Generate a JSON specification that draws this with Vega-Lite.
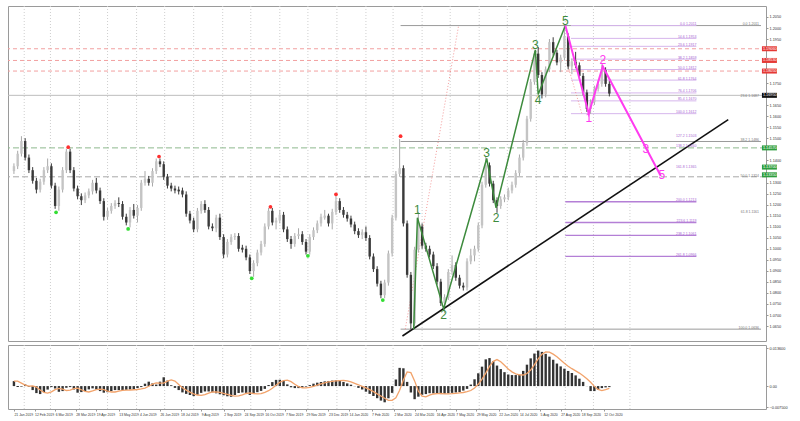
{
"$schema":"https://vega.github.io/schema/vega-lite/v6.json",
"background":"white",
"padding":{"left":7,"top":5,"right":2,"bottom":2},
"spacing":2,
"config":{"view":{"stroke":"#9a9a9a","strokeWidth":1},"font":"Liberation Sans","axis":{"labelOverlap":false,"labelSeparation":0}},
"datasets":{
"candles":[
{"d":"2019-01-21","o":1.1352,"h":1.1387,"l":1.1339,"c":1.1374,"m":0.00179,"s":0.00179},
{"d":"2019-01-25","o":1.1374,"h":1.1444,"l":1.1361,"c":1.1431,"m":-0.00036,"s":0.00179},
{"d":"2019-01-29","o":1.1431,"h":1.1510,"l":1.1418,"c":1.1488,"m":-0.00021,"s":0.00107},
{"d":"2019-02-02","o":1.1488,"h":1.1501,"l":1.1400,"c":1.1413,"m":0.00057,"s":0.00036},
{"d":"2019-02-06","o":1.1413,"h":1.1427,"l":1.1343,"c":1.1356,"m":-0.00025,"s":-0.00004},
{"d":"2019-02-10","o":1.1356,"h":1.1370,"l":1.1295,"c":1.1308,"m":-0.00143,"s":0.00004},
{"d":"2019-02-14","o":1.1308,"h":1.1321,"l":1.1251,"c":1.1268,"m":-0.00251,"s":-0.00036},
{"d":"2019-02-18","o":1.1268,"h":1.1317,"l":1.1255,"c":1.1304,"m":-0.00286,"s":-0.00140},
{"d":"2019-02-22","o":1.1304,"h":1.1370,"l":1.1290,"c":1.1356,"m":-0.00215,"s":-0.00226},
{"d":"2019-02-26","o":1.1356,"h":1.1409,"l":1.1343,"c":1.1374,"m":-0.00125,"s":-0.00251},
{"d":"2019-03-02","o":1.1374,"h":1.1387,"l":1.1273,"c":1.1286,"m":-0.00036,"s":-0.00208},
{"d":"2019-03-06","o":1.1286,"h":1.1299,"l":1.1181,"c":1.1194,"m":-0.00086,"s":-0.00125},
{"d":"2019-03-10","o":1.1194,"h":1.1282,"l":1.1172,"c":1.1268,"m":-0.00204,"s":-0.00082},
{"d":"2019-03-14","o":1.1268,"h":1.1370,"l":1.1255,"c":1.1356,"m":-0.00179,"s":-0.00107},
{"d":"2019-03-18","o":1.1356,"h":1.1453,"l":1.1343,"c":1.1440,"m":-0.00061,"s":-0.00158},
{"d":"2019-03-22","o":1.1440,"h":1.1453,"l":1.1343,"c":1.1356,"m":-0.00036,"s":-0.00147},
{"d":"2019-03-26","o":1.1356,"h":1.1370,"l":1.1260,"c":1.1273,"m":-0.00122,"s":-0.00093},
{"d":"2019-03-30","o":1.1273,"h":1.1286,"l":1.1224,"c":1.1238,"m":-0.00236,"s":-0.00072},
{"d":"2019-04-03","o":1.1238,"h":1.1251,"l":1.1198,"c":1.1220,"m":-0.00215,"s":-0.00132},
{"d":"2019-04-07","o":1.1220,"h":1.1255,"l":1.1207,"c":1.1242,"m":-0.00179,"s":-0.00190},
{"d":"2019-04-11","o":1.1242,"h":1.1273,"l":1.1229,"c":1.1260,"m":-0.00118,"s":-0.00211},
{"d":"2019-04-15","o":1.1260,"h":1.1312,"l":1.1246,"c":1.1299,"m":-0.00082,"s":-0.00172},
{"d":"2019-04-19","o":1.1299,"h":1.1321,"l":1.1251,"c":1.1264,"m":-0.00122,"s":-0.00125},
{"d":"2019-04-23","o":1.1264,"h":1.1277,"l":1.1203,"c":1.1216,"m":-0.00179,"s":-0.00107},
{"d":"2019-04-27","o":1.1216,"h":1.1229,"l":1.1128,"c":1.1145,"m":-0.00236,"s":-0.00129},
{"d":"2019-05-01","o":1.1145,"h":1.1185,"l":1.1132,"c":1.1172,"m":-0.00218,"s":-0.00179},
{"d":"2019-05-05","o":1.1172,"h":1.1207,"l":1.1159,"c":1.1194,"m":-0.00179,"s":-0.00211},
{"d":"2019-05-09","o":1.1194,"h":1.1220,"l":1.1181,"c":1.1207,"m":-0.00143,"s":-0.00211},
{"d":"2019-05-13","o":1.1207,"h":1.1233,"l":1.1189,"c":1.1203,"m":-0.00143,"s":-0.00179},
{"d":"2019-05-17","o":1.1203,"h":1.1216,"l":1.1132,"c":1.1145,"m":-0.00143,"s":-0.00154},
{"d":"2019-05-21","o":1.1145,"h":1.1159,"l":1.1106,"c":1.1119,"m":-0.00136,"s":-0.00143},
{"d":"2019-05-25","o":1.1119,"h":1.1189,"l":1.1097,"c":1.1176,"m":-0.00122,"s":-0.00140},
{"d":"2019-05-29","o":1.1176,"h":1.1203,"l":1.1137,"c":1.1150,"m":-0.00107,"s":-0.00132},
{"d":"2019-06-02","o":1.1150,"h":1.1198,"l":1.1119,"c":1.1185,"m":-0.00072,"s":-0.00122},
{"d":"2019-06-06","o":1.1185,"h":1.1312,"l":1.1172,"c":1.1299,"m":-0.00036,"s":-0.00100},
{"d":"2019-06-10","o":1.1299,"h":1.1352,"l":1.1286,"c":1.1317,"m":0.00086,"s":-0.00072},
{"d":"2019-06-14","o":1.1317,"h":1.1330,"l":1.1286,"c":1.1299,"m":0.00158,"s":-0.00007},
{"d":"2019-06-18","o":1.1299,"h":1.1365,"l":1.1282,"c":1.1352,"m":0.00097,"s":0.00068},
{"d":"2019-06-22","o":1.1352,"h":1.1409,"l":1.1339,"c":1.1396,"m":0.00054,"s":0.00115},
{"d":"2019-06-26","o":1.1396,"h":1.1409,"l":1.1370,"c":1.1383,"m":0.00158,"s":0.00104},
{"d":"2019-06-30","o":1.1383,"h":1.1396,"l":1.1312,"c":1.1326,"m":0.00315,"s":0.00104},
{"d":"2019-07-04","o":1.1326,"h":1.1339,"l":1.1273,"c":1.1286,"m":0.00197,"s":0.00175},
{"d":"2019-07-08","o":1.1286,"h":1.1299,"l":1.1260,"c":1.1273,"m":0.00029,"s":0.00222},
{"d":"2019-07-12","o":1.1273,"h":1.1286,"l":1.1251,"c":1.1264,"m":-0.00064,"s":0.00179},
{"d":"2019-07-16","o":1.1268,"h":1.1282,"l":1.1246,"c":1.1260,"m":-0.00143,"s":0.00054},
{"d":"2019-07-20","o":1.1264,"h":1.1277,"l":1.1233,"c":1.1246,"m":-0.00226,"s":-0.00061},
{"d":"2019-07-24","o":1.1246,"h":1.1260,"l":1.1145,"c":1.1159,"m":-0.00279,"s":-0.00143},
{"d":"2019-07-28","o":1.1159,"h":1.1172,"l":1.1115,"c":1.1128,"m":-0.00319,"s":-0.00215},
{"d":"2019-08-01","o":1.1128,"h":1.1141,"l":1.1075,"c":1.1088,"m":-0.00358,"s":-0.00276},
{"d":"2019-08-05","o":1.1088,"h":1.1185,"l":1.1075,"c":1.1172,"m":-0.00311,"s":-0.00319},
{"d":"2019-08-09","o":1.1172,"h":1.1216,"l":1.1159,"c":1.1203,"m":-0.00243,"s":-0.00329},
{"d":"2019-08-13","o":1.1203,"h":1.1220,"l":1.1163,"c":1.1176,"m":-0.00193,"s":-0.00304},
{"d":"2019-08-17","o":1.1176,"h":1.1189,"l":1.1088,"c":1.1101,"m":-0.00193,"s":-0.00251},
{"d":"2019-08-21","o":1.1101,"h":1.1115,"l":1.1080,"c":1.1093,"m":-0.00222,"s":-0.00211},
{"d":"2019-08-25","o":1.1093,"h":1.1154,"l":1.1075,"c":1.1141,"m":-0.00258,"s":-0.00204},
{"d":"2019-08-29","o":1.1141,"h":1.1159,"l":1.1040,"c":1.1053,"m":-0.00294,"s":-0.00226},
{"d":"2019-09-02","o":1.1053,"h":1.1066,"l":1.0957,"c":1.0974,"m":-0.00329,"s":-0.00258},
{"d":"2019-09-06","o":1.0974,"h":1.1044,"l":1.0961,"c":1.1031,"m":-0.00365,"s":-0.00294},
{"d":"2019-09-10","o":1.1031,"h":1.1066,"l":1.1018,"c":1.1053,"m":-0.00383,"s":-0.00329},
{"d":"2019-09-14","o":1.1053,"h":1.1071,"l":1.1040,"c":1.1058,"m":-0.00319,"s":-0.00358},
{"d":"2019-09-18","o":1.1058,"h":1.1071,"l":1.0987,"c":1.1000,"m":-0.00247,"s":-0.00354},
{"d":"2019-09-22","o":1.1005,"h":1.1018,"l":1.0983,"c":1.0996,"m":-0.00229,"s":-0.00315},
{"d":"2019-09-26","o":1.1000,"h":1.1014,"l":1.0948,"c":1.0961,"m":-0.00243,"s":-0.00265},
{"d":"2019-09-30","o":1.0961,"h":1.0974,"l":1.0886,"c":1.0899,"m":-0.00319,"s":-0.00240},
{"d":"2019-10-04","o":1.0899,"h":1.0948,"l":1.0873,"c":1.0935,"m":-0.00272,"s":-0.00265},
{"d":"2019-10-08","o":1.0935,"h":1.0996,"l":1.0921,"c":1.0983,"m":-0.00218,"s":-0.00279},
{"d":"2019-10-12","o":1.0983,"h":1.1036,"l":1.0970,"c":1.1022,"m":-0.00172,"s":-0.00269},
{"d":"2019-10-16","o":1.1022,"h":1.1115,"l":1.1009,"c":1.1101,"m":-0.00100,"s":-0.00222},
{"d":"2019-10-20","o":1.1101,"h":1.1185,"l":1.1088,"c":1.1172,"m":0.00039,"s":-0.00165},
{"d":"2019-10-24","o":1.1172,"h":1.1185,"l":1.1106,"c":1.1119,"m":0.00143,"s":-0.00079},
{"d":"2019-10-28","o":1.1119,"h":1.1141,"l":1.1088,"c":1.1128,"m":0.00222,"s":0.00029},
{"d":"2019-11-01","o":1.1128,"h":1.1176,"l":1.1115,"c":1.1154,"m":0.00226,"s":0.00136},
{"d":"2019-11-05","o":1.1154,"h":1.1167,"l":1.1075,"c":1.1088,"m":0.00186,"s":0.00197},
{"d":"2019-11-09","o":1.1088,"h":1.1101,"l":1.1031,"c":1.1044,"m":0.00061,"s":0.00211},
{"d":"2019-11-13","o":1.1044,"h":1.1058,"l":1.1000,"c":1.1022,"m":-0.00043,"s":0.00158},
{"d":"2019-11-17","o":1.1022,"h":1.1071,"l":1.1009,"c":1.1058,"m":-0.00072,"s":0.00068},
{"d":"2019-11-21","o":1.1058,"h":1.1093,"l":1.1044,"c":1.1066,"m":-0.00072,"s":-0.00018},
{"d":"2019-11-25","o":1.1066,"h":1.1080,"l":1.1018,"c":1.1031,"m":-0.00054,"s":-0.00061},
{"d":"2019-11-29","o":1.1031,"h":1.1044,"l":1.0974,"c":1.0987,"m":-0.00021,"s":-0.00064},
{"d":"2019-12-03","o":1.0987,"h":1.1066,"l":1.0974,"c":1.1053,"m":0.00036,"s":-0.00050},
{"d":"2019-12-07","o":1.1053,"h":1.1097,"l":1.1040,"c":1.1084,"m":0.00086,"s":-0.00014},
{"d":"2019-12-11","o":1.1084,"h":1.1128,"l":1.1071,"c":1.1115,"m":0.00122,"s":0.00032},
{"d":"2019-12-15","o":1.1115,"h":1.1159,"l":1.1101,"c":1.1145,"m":0.00147,"s":0.00082},
{"d":"2019-12-19","o":1.1141,"h":1.1176,"l":1.1132,"c":1.1150,"m":0.00168,"s":0.00118},
{"d":"2019-12-23","o":1.1150,"h":1.1159,"l":1.1101,"c":1.1115,"m":0.00183,"s":0.00147},
{"d":"2019-12-27","o":1.1115,"h":1.1181,"l":1.1088,"c":1.1167,"m":0.00197,"s":0.00165},
{"d":"2019-12-31","o":1.1167,"h":1.1242,"l":1.1154,"c":1.1216,"m":0.00208,"s":0.00183},
{"d":"2020-01-04","o":1.1216,"h":1.1229,"l":1.1163,"c":1.1176,"m":0.00200,"s":0.00197},
{"d":"2020-01-08","o":1.1176,"h":1.1189,"l":1.1141,"c":1.1154,"m":0.00147,"s":0.00200},
{"d":"2020-01-12","o":1.1154,"h":1.1167,"l":1.1123,"c":1.1137,"m":0.00097,"s":0.00186},
{"d":"2020-01-16","o":1.1137,"h":1.1150,"l":1.1097,"c":1.1110,"m":0.00050,"s":0.00147},
{"d":"2020-01-20","o":1.1110,"h":1.1123,"l":1.1066,"c":1.1080,"m":-0.00007,"s":0.00097},
{"d":"2020-01-24","o":1.1080,"h":1.1093,"l":1.1049,"c":1.1062,"m":-0.00064,"s":0.00047},
{"d":"2020-01-28","o":1.1062,"h":1.1088,"l":1.1044,"c":1.1075,"m":-0.00122,"s":-0.00007},
{"d":"2020-02-01","o":1.1075,"h":1.1101,"l":1.1036,"c":1.1049,"m":-0.00200,"s":-0.00064},
{"d":"2020-02-05","o":1.1049,"h":1.1062,"l":1.0952,"c":1.0965,"m":-0.00279,"s":-0.00129},
{"d":"2020-02-09","o":1.0965,"h":1.0979,"l":1.0895,"c":1.0908,"m":-0.00354,"s":-0.00200},
{"d":"2020-02-13","o":1.0908,"h":1.0921,"l":1.0829,"c":1.0842,"m":-0.00433,"s":-0.00279},
{"d":"2020-02-17","o":1.0842,"h":1.0855,"l":1.0776,"c":1.0790,"m":-0.00519,"s":-0.00354},
{"d":"2020-02-21","o":1.0790,"h":1.0860,"l":1.0776,"c":1.0847,"m":-0.00580,"s":-0.00437},
{"d":"2020-02-25","o":1.0847,"h":1.0992,"l":1.0833,"c":1.0979,"m":-0.00437,"s":-0.00512},
{"d":"2020-02-29","o":1.0979,"h":1.1154,"l":1.0965,"c":1.1141,"m":-0.00243,"s":-0.00512},
{"d":"2020-03-04","o":1.1141,"h":1.1352,"l":1.1128,"c":1.1339,"m":0.00236,"s":-0.00419},
{"d":"2020-03-08","o":1.1339,"h":1.1497,"l":1.1326,"c":1.1365,"m":0.00652,"s":-0.00147},
{"d":"2020-03-12","o":1.1365,"h":1.1378,"l":1.1101,"c":1.1115,"m":0.00637,"s":0.00215},
{"d":"2020-03-16","o":1.1115,"h":1.1128,"l":1.0869,"c":1.0882,"m":0.00150,"s":0.00508},
{"d":"2020-03-20","o":1.0882,"h":1.0895,"l":1.0636,"c":1.0662,"m":-0.00229,"s":0.00480},
{"d":"2020-03-24","o":1.0662,"h":1.1009,"l":1.0649,"c":1.0996,"m":-0.00469,"s":0.00186},
{"d":"2020-03-28","o":1.0996,"h":1.1167,"l":1.0983,"c":1.1101,"m":-0.00379,"s":-0.00183},
{"d":"2020-04-01","o":1.1101,"h":1.1115,"l":1.1000,"c":1.1014,"m":-0.00311,"s":-0.00358},
{"d":"2020-04-05","o":1.1014,"h":1.1027,"l":1.0987,"c":1.1000,"m":-0.00286,"s":-0.00387},
{"d":"2020-04-09","o":1.1000,"h":1.1014,"l":1.0961,"c":1.0974,"m":-0.00254,"s":-0.00326},
{"d":"2020-04-13","o":1.0974,"h":1.0987,"l":1.0908,"c":1.0921,"m":-0.00261,"s":-0.00283},
{"d":"2020-04-17","o":1.0921,"h":1.0935,"l":1.0838,"c":1.0851,"m":-0.00276,"s":-0.00269},
{"d":"2020-04-21","o":1.0851,"h":1.0864,"l":1.0741,"c":1.0754,"m":-0.00286,"s":-0.00265},
{"d":"2020-04-25","o":1.0754,"h":1.0794,"l":1.0710,"c":1.0781,"m":-0.00272,"s":-0.00276},
{"d":"2020-04-29","o":1.0781,"h":1.0908,"l":1.0768,"c":1.0895,"m":-0.00258,"s":-0.00279},
{"d":"2020-05-03","o":1.0895,"h":1.0970,"l":1.0882,"c":1.0926,"m":-0.00243,"s":-0.00272},
{"d":"2020-05-07","o":1.0926,"h":1.0939,"l":1.0855,"c":1.0869,"m":-0.00229,"s":-0.00258},
{"d":"2020-05-11","o":1.0869,"h":1.0882,"l":1.0820,"c":1.0833,"m":-0.00215,"s":-0.00243},
{"d":"2020-05-15","o":1.0833,"h":1.0847,"l":1.0811,"c":1.0825,"m":-0.00161,"s":-0.00229},
{"d":"2020-05-19","o":1.0825,"h":1.0957,"l":1.0811,"c":1.0943,"m":-0.00100,"s":-0.00200},
{"d":"2020-05-23","o":1.0943,"h":1.1000,"l":1.0930,"c":1.0970,"m":0.00054,"s":-0.00158},
{"d":"2020-05-27","o":1.0970,"h":1.1014,"l":1.0943,"c":1.1000,"m":0.00243,"s":-0.00068},
{"d":"2020-05-31","o":1.1000,"h":1.1119,"l":1.0987,"c":1.1106,"m":0.00458,"s":0.00064},
{"d":"2020-06-04","o":1.1106,"h":1.1304,"l":1.1093,"c":1.1290,"m":0.00695,"s":0.00251},
{"d":"2020-06-08","o":1.1290,"h":1.1418,"l":1.1277,"c":1.1378,"m":0.00956,"s":0.00465},
{"d":"2020-06-12","o":1.1378,"h":1.1391,"l":1.1282,"c":1.1295,"m":0.01002,"s":0.00702},
{"d":"2020-06-16","o":1.1295,"h":1.1308,"l":1.1207,"c":1.1220,"m":0.00888,"s":0.00884},
{"d":"2020-06-20","o":1.1220,"h":1.1233,"l":1.1163,"c":1.1194,"m":0.00734,"s":0.00949},
{"d":"2020-06-24","o":1.1194,"h":1.1238,"l":1.1181,"c":1.1224,"m":0.00609,"s":0.00874},
{"d":"2020-06-28","o":1.1224,"h":1.1246,"l":1.1211,"c":1.1233,"m":0.00498,"s":0.00745},
{"d":"2020-07-02","o":1.1233,"h":1.1277,"l":1.1220,"c":1.1264,"m":0.00415,"s":0.00612},
{"d":"2020-07-06","o":1.1264,"h":1.1304,"l":1.1251,"c":1.1290,"m":0.00394,"s":0.00508},
{"d":"2020-07-10","o":1.1290,"h":1.1356,"l":1.1277,"c":1.1343,"m":0.00394,"s":0.00437},
{"d":"2020-07-14","o":1.1343,"h":1.1427,"l":1.1330,"c":1.1413,"m":0.00408,"s":0.00401},
{"d":"2020-07-18","o":1.1413,"h":1.1493,"l":1.1400,"c":1.1479,"m":0.00544,"s":0.00397},
{"d":"2020-07-22","o":1.1479,"h":1.1602,"l":1.1466,"c":1.1589,"m":0.00766,"s":0.00448},
{"d":"2020-07-26","o":1.1589,"h":1.1769,"l":1.1576,"c":1.1756,"m":0.00992,"s":0.00573},
{"d":"2020-07-30","o":1.1756,"h":1.1897,"l":1.1743,"c":1.1884,"m":0.01164,"s":0.00766},
{"d":"2020-08-03","o":1.1884,"h":1.1914,"l":1.1774,"c":1.1787,"m":0.01271,"s":0.00974},
{"d":"2020-08-07","o":1.1787,"h":1.1800,"l":1.1681,"c":1.1699,"m":0.01224,"s":0.01142},
{"d":"2020-08-11","o":1.1699,"h":1.1826,"l":1.1686,"c":1.1813,"m":0.01153,"s":0.01221},
{"d":"2020-08-15","o":1.1813,"h":1.1950,"l":1.1800,"c":1.1936,"m":0.01053,"s":0.01217},
{"d":"2020-08-19","o":1.1936,"h":1.1958,"l":1.1875,"c":1.1888,"m":0.00942,"s":0.01142},
{"d":"2020-08-23","o":1.1888,"h":1.1901,"l":1.1831,"c":1.1844,"m":0.00806,"s":0.01049},
{"d":"2020-08-27","o":1.1844,"h":1.1879,"l":1.1800,"c":1.1866,"m":0.00705,"s":0.00934},
{"d":"2020-08-31","o":1.1866,"h":1.2011,"l":1.1853,"c":1.1963,"m":0.00623,"s":0.00816},
{"d":"2020-09-04","o":1.1963,"h":1.1976,"l":1.1813,"c":1.1826,"m":0.00541,"s":0.00712},
{"d":"2020-09-08","o":1.1826,"h":1.1862,"l":1.1791,"c":1.1848,"m":0.00469,"s":0.00623},
{"d":"2020-09-12","o":1.1848,"h":1.1892,"l":1.1818,"c":1.1831,"m":0.00383,"s":0.00544},
{"d":"2020-09-16","o":1.1831,"h":1.1844,"l":1.1769,"c":1.1783,"m":0.00265,"s":0.00465},
{"d":"2020-09-20","o":1.1783,"h":1.1796,"l":1.1695,"c":1.1708,"m":0.00150,"s":0.00372},
{"d":"2020-09-24","o":1.1708,"h":1.1721,"l":1.1620,"c":1.1633,"m":-0.00004,"s":0.00265},
{"d":"2020-09-28","o":1.1633,"h":1.1677,"l":1.1611,"c":1.1664,"m":-0.00179,"s":0.00136},
{"d":"2020-10-02","o":1.1664,"h":1.1739,"l":1.1651,"c":1.1725,"m":-0.00179,"s":-0.00011},
{"d":"2020-10-06","o":1.1725,"h":1.1761,"l":1.1712,"c":1.1747,"m":-0.00125,"s":-0.00122},
{"d":"2020-10-10","o":1.1747,"h":1.1835,"l":1.1734,"c":1.1809,"m":-0.00072,"s":-0.00161},
{"d":"2020-10-14","o":1.1809,"h":1.1822,"l":1.1734,"c":1.1747,"m":-0.00047,"s":-0.00125},
{"d":"2020-10-18","o":1.1747,"h":1.1761,"l":1.1690,"c":1.1703,"m":-0.00036,"s":-0.00082}
],
"grid":[{"d":"2019-02-01"},{"d":"2019-03-01"},{"d":"2019-04-01"},{"d":"2019-05-01"},{"d":"2019-06-01"},{"d":"2019-07-01"},{"d":"2019-08-01"},{"d":"2019-09-01"},{"d":"2019-10-01"},{"d":"2019-11-01"},{"d":"2019-12-01"},{"d":"2020-01-01"},{"d":"2020-02-01"},{"d":"2020-03-01"},{"d":"2020-04-01"},{"d":"2020-05-01"},{"d":"2020-06-01"},{"d":"2020-07-01"},{"d":"2020-08-01"},{"d":"2020-09-01"},{"d":"2020-10-01"},{"d":"2020-11-09"}],
"hl":[{"p":1.1906,"kind":"pink"},{"p":1.1853,"kind":"pink"},{"p":1.1805,"kind":"pink"},{"p":1.1695,"kind":"grey"},{"p":1.1457,"kind":"green"},{"p":1.1326,"kind":"greyd"}],
"seg":[
{"d1":"2020-03-09","d2":"2021-03-29","p":1.2011,"kind":"grey"},
{"d1":"2020-03-09","d2":"2021-03-29","p":1.1486,"kind":"grey"},
{"d1":"2020-03-09","d2":"2021-03-29","p":1.0636,"kind":"grey"},
{"d1":"2020-09-07","d2":"2021-01-19","p":1.2011,"kind":"purple"},
{"d1":"2020-09-07","d2":"2021-01-19","p":1.1953,"kind":"purple"},
{"d1":"2020-09-07","d2":"2021-01-19","p":1.1917,"kind":"purple"},
{"d1":"2020-09-07","d2":"2021-01-19","p":1.1859,"kind":"purple"},
{"d1":"2020-09-07","d2":"2021-01-19","p":1.1812,"kind":"purple"},
{"d1":"2020-09-07","d2":"2021-01-19","p":1.1764,"kind":"purple"},
{"d1":"2020-09-07","d2":"2021-01-19","p":1.1706,"kind":"purple"},
{"d1":"2020-09-07","d2":"2021-01-19","p":1.1670,"kind":"purple"},
{"d1":"2020-09-07","d2":"2021-01-19","p":1.1612,"kind":"purple"},
{"d1":"2020-09-01","d2":"2021-01-19","p":1.1213,"kind":"purple2"},
{"d1":"2020-09-01","d2":"2021-01-19","p":1.1119,"kind":"purple2"},
{"d1":"2020-09-01","d2":"2021-01-19","p":1.1061,"kind":"purple2"},
{"d1":"2020-09-01","d2":"2021-01-19","p":1.0966,"kind":"purple2"}
],
"fibtxt":[
{"d":"2021-03-29","p":1.2011,"t":"0.0  1.2011","kind":"grey"},
{"d":"2021-03-29","p":1.1687,"t":"23.6  1.1687","kind":"grey"},
{"d":"2021-03-29","p":1.1486,"t":"38.2  1.1486","kind":"grey"},
{"d":"2021-03-29","p":1.1324,"t":"50.0  1.1324","kind":"grey"},
{"d":"2021-03-29","p":1.1161,"t":"61.8  1.1161","kind":"grey"},
{"d":"2021-03-29","p":1.0636,"t":"100.0  1.0636","kind":"grey"},
{"d":"2021-01-19","p":1.2011,"t":"0.0  1.2011","kind":"purple"},
{"d":"2021-01-19","p":1.1953,"t":"14.6  1.1953","kind":"purple"},
{"d":"2021-01-19","p":1.1917,"t":"23.6  1.1917","kind":"purple"},
{"d":"2021-01-19","p":1.1859,"t":"38.2  1.1859","kind":"purple"},
{"d":"2021-01-19","p":1.1812,"t":"50.0  1.1812","kind":"purple"},
{"d":"2021-01-19","p":1.1764,"t":"61.8  1.1764","kind":"purple"},
{"d":"2021-01-19","p":1.1706,"t":"76.4  1.1706","kind":"purple"},
{"d":"2021-01-19","p":1.1670,"t":"85.4  1.1670","kind":"purple"},
{"d":"2021-01-19","p":1.1612,"t":"100.0  1.1612","kind":"purple"},
{"d":"2021-01-19","p":1.1503,"t":"127.2  1.1503","kind":"purple"},
{"d":"2021-01-19","p":1.1460,"t":"138.2  1.1460","kind":"purple"},
{"d":"2021-01-19","p":1.1365,"t":"161.8  1.1365","kind":"purple"},
{"d":"2021-01-19","p":1.1213,"t":"200.0  1.1213","kind":"purple"},
{"d":"2021-01-19","p":1.1119,"t":"223.6  1.1119","kind":"purple"},
{"d":"2021-01-19","p":1.1061,"t":"238.2  1.1061","kind":"purple"},
{"d":"2021-01-19","p":1.0966,"t":"261.8  1.0966","kind":"purple"}
],
"dots":[
{"d":"2019-03-20","p":1.1460,"kind":"top"},{"d":"2019-06-25","p":1.1418,"kind":"top"},{"d":"2019-10-22","p":1.1190,"kind":"top"},{"d":"2019-12-31","p":1.1247,"kind":"top"},{"d":"2020-03-09","p":1.1510,"kind":"top"},
{"d":"2019-03-07","p":1.1165,"kind":"bottom"},{"d":"2019-05-23","p":1.1090,"kind":"bottom"},{"d":"2019-10-02","p":1.0866,"kind":"bottom"},{"d":"2019-12-01","p":1.0968,"kind":"bottom"},{"d":"2020-02-19","p":1.0768,"kind":"bottom"}
],
"trend":[{"d":"2020-03-11","p":1.0605},{"d":"2021-02-22","p":1.1585}],
"diag":[{"d":"2020-03-14","p":1.0636,"g":"a"},{"d":"2020-05-10","p":1.2011,"g":"a"},{"d":"2020-09-03","p":1.1840,"g":"b"},{"d":"2020-09-19","p":1.1607,"g":"b"}],
"wave":[{"d":"2020-03-23","p":1.0636},{"d":"2020-03-27","p":1.1141},{"d":"2020-04-24","p":1.0728},{"d":"2020-06-09","p":1.1409},{"d":"2020-06-19","p":1.1185},{"d":"2020-07-31","p":1.1901},{"d":"2020-08-03","p":1.1699},{"d":"2020-09-01","p":1.2011}],
"mag":[{"d":"2020-09-01","p":1.2011},{"d":"2020-09-26","p":1.1612},{"d":"2020-10-11","p":1.1826},{"d":"2020-11-28","p":1.1442},{"d":"2020-12-12","p":1.1330}],
"wlab":[
{"d":"2020-03-27","p":1.1176,"t":"1","kind":"g"},{"d":"2020-04-24","p":1.0702,"t":"2","kind":"g"},{"d":"2020-06-09","p":1.1435,"t":"3","kind":"g"},{"d":"2020-06-19","p":1.1141,"t":"2","kind":"g"},{"d":"2020-07-31","p":1.1923,"t":"3","kind":"g"},{"d":"2020-08-03","p":1.1673,"t":"4","kind":"g"},{"d":"2020-09-01","p":1.2033,"t":"5","kind":"g"},
{"d":"2020-09-26","p":1.1594,"t":"1","kind":"m"},{"d":"2020-10-11","p":1.1857,"t":"2","kind":"m"},{"d":"2020-11-26","p":1.1450,"t":"3","kind":"m"},{"d":"2020-12-13","p":1.1334,"t":"5","kind":"m"}
],
"boxes":[{"p":1.1906,"kind":"red"},{"p":1.1853,"kind":"red"},{"p":1.1805,"kind":"red"},{"p":1.1695,"kind":"black"},{"p":1.1457,"kind":"green"},{"p":1.1370,"kind":"green"},{"p":1.1335,"kind":"green"}]
},
"vconcat":[
{"width":758,"height":335,
"layer":[
{"data":{"name":"grid"},"mark":{"type":"rule","color":"#cfcfcf","strokeDash":[1,2],"strokeWidth":1},
 "encoding":{"x":{"field":"d","type":"temporal","scale":{"type":"utc","domain":[{"year":2019,"month":1,"date":20,"utc":true},{"year":2021,"month":3,"date":29,"utc":true}]},"axis":null}}},
{"data":{"name":"hl"},"transform":[{"filter":"datum.kind == 'pink'"}],"mark":{"type":"rule","color":"#f2a0a0","strokeDash":[4,3],"strokeWidth":1},
 "encoding":{"y":{"field":"p","type":"quantitative","scale":{"domain":[1.0605,1.2077],"zero":false,"nice":false},
   "axis":{"orient":"right","values":[1.065,1.07,1.075,1.08,1.085,1.09,1.095,1.1,1.105,1.11,1.115,1.12,1.125,1.13,1.14,1.15,1.155,1.16,1.165,1.175,1.195,1.2,1.205],"tickCount":200,"format":".4f","labelFontSize":3.8,"labelColor":"#333","tickSize":2,"tickColor":"#999","labelPadding":1,"domain":false,"grid":false,"title":null,"labelOverlap":false}}}},
{"data":{"name":"hl"},"transform":[{"filter":"datum.kind == 'grey'"}],"mark":{"type":"rule","color":"#bdbdbd","strokeWidth":1},
 "encoding":{"y":{"field":"p","type":"quantitative","scale":{"domain":[1.0605,1.2077],"zero":false,"nice":false}}}},
{"data":{"name":"hl"},"transform":[{"filter":"datum.kind == 'green'"}],"mark":{"type":"rule","color":"#8db88d","strokeDash":[6,3],"strokeWidth":1},
 "encoding":{"y":{"field":"p","type":"quantitative","scale":{"domain":[1.0605,1.2077],"zero":false,"nice":false}}}},
{"data":{"name":"hl"},"transform":[{"filter":"datum.kind == 'greyd'"}],"mark":{"type":"rule","color":"#a8a8a8","strokeDash":[6,3],"strokeWidth":1},
 "encoding":{"y":{"field":"p","type":"quantitative","scale":{"domain":[1.0605,1.2077],"zero":false,"nice":false}}}},
{"data":{"name":"seg"},"transform":[{"filter":"datum.kind == 'grey'"}],"mark":{"type":"rule","color":"#9a9a9a","strokeWidth":1},
 "encoding":{"x":{"field":"d1","type":"temporal","scale":{"type":"utc","domain":[{"year":2019,"month":1,"date":20,"utc":true},{"year":2021,"month":3,"date":29,"utc":true}]},"axis":null},"x2":{"field":"d2"},
  "y":{"field":"p","type":"quantitative","scale":{"domain":[1.0605,1.2077],"zero":false,"nice":false}}}},
{"data":{"name":"seg"},"transform":[{"filter":"datum.kind == 'purple'"}],"mark":{"type":"rule","color":"#d6b6ec","strokeWidth":1},
 "encoding":{"x":{"field":"d1","type":"temporal","scale":{"type":"utc","domain":[{"year":2019,"month":1,"date":20,"utc":true},{"year":2021,"month":3,"date":29,"utc":true}]},"axis":null},"x2":{"field":"d2"},
  "y":{"field":"p","type":"quantitative","scale":{"domain":[1.0605,1.2077],"zero":false,"nice":false}}}},
{"data":{"name":"seg"},"transform":[{"filter":"datum.kind == 'purple2'"}],"mark":{"type":"rule","color":"#b47fd6","strokeWidth":1.3},
 "encoding":{"x":{"field":"d1","type":"temporal","scale":{"type":"utc","domain":[{"year":2019,"month":1,"date":20,"utc":true},{"year":2021,"month":3,"date":29,"utc":true}]},"axis":null},"x2":{"field":"d2"},
  "y":{"field":"p","type":"quantitative","scale":{"domain":[1.0605,1.2077],"zero":false,"nice":false}}}},
{"data":{"name":"diag"},"mark":{"type":"line","color":"#f08080","strokeDash":[1,2],"strokeWidth":0.8},
 "encoding":{"x":{"field":"d","type":"temporal","scale":{"type":"utc","domain":[{"year":2019,"month":1,"date":20,"utc":true},{"year":2021,"month":3,"date":29,"utc":true}]},"axis":null},
  "y":{"field":"p","type":"quantitative","scale":{"domain":[1.0605,1.2077],"zero":false,"nice":false}},"detail":{"field":"g"}}},
{"data":{"name":"candles"},"mark":{"type":"rule","strokeWidth":1},
 "encoding":{"x":{"field":"d","type":"temporal","scale":{"type":"utc","domain":[{"year":2019,"month":1,"date":20,"utc":true},{"year":2021,"month":3,"date":29,"utc":true}]},"axis":null},
  "y":{"field":"l","type":"quantitative","scale":{"domain":[1.0605,1.2077],"zero":false,"nice":false}},
  "y2":{"field":"h"},
  "color":{"condition":{"test":"datum.c >= datum.o","value":"#a8a8a8"},"value":"#3a3a3a"}}},
{"data":{"name":"candles"},"mark":{"type":"bar","width":2.4},
 "encoding":{"x":{"field":"d","type":"temporal","scale":{"type":"utc","domain":[{"year":2019,"month":1,"date":20,"utc":true},{"year":2021,"month":3,"date":29,"utc":true}]},"axis":null},
  "y":{"field":"o","type":"quantitative","scale":{"domain":[1.0605,1.2077],"zero":false,"nice":false}},
  "y2":{"field":"c"},
  "color":{"condition":{"test":"datum.c >= datum.o","value":"#c4c4c4"},"value":"#3a3a3a"}}},
{"data":{"name":"trend"},"mark":{"type":"line","color":"#111111","strokeWidth":1.6},
 "encoding":{"x":{"field":"d","type":"temporal","scale":{"type":"utc","domain":[{"year":2019,"month":1,"date":20,"utc":true},{"year":2021,"month":3,"date":29,"utc":true}]},"axis":null},
  "y":{"field":"p","type":"quantitative","scale":{"domain":[1.0605,1.2077],"zero":false,"nice":false}}}},
{"data":{"name":"wave"},"mark":{"type":"line","color":"#3d8b3d","strokeWidth":1.5},
 "encoding":{"x":{"field":"d","type":"temporal","scale":{"type":"utc","domain":[{"year":2019,"month":1,"date":20,"utc":true},{"year":2021,"month":3,"date":29,"utc":true}]},"axis":null},
  "y":{"field":"p","type":"quantitative","scale":{"domain":[1.0605,1.2077],"zero":false,"nice":false}}}},
{"data":{"name":"mag"},"mark":{"type":"line","color":"#ff3cf0","strokeWidth":2},
 "encoding":{"x":{"field":"d","type":"temporal","scale":{"type":"utc","domain":[{"year":2019,"month":1,"date":20,"utc":true},{"year":2021,"month":3,"date":29,"utc":true}]},"axis":null},
  "y":{"field":"p","type":"quantitative","scale":{"domain":[1.0605,1.2077],"zero":false,"nice":false}}}},
{"data":{"name":"dots"},"transform":[{"filter":"datum.kind == 'top'"}],"mark":{"type":"circle","color":"#ff3030","size":14,"opacity":1},
 "encoding":{"x":{"field":"d","type":"temporal","scale":{"type":"utc","domain":[{"year":2019,"month":1,"date":20,"utc":true},{"year":2021,"month":3,"date":29,"utc":true}]},"axis":null},
  "y":{"field":"p","type":"quantitative","scale":{"domain":[1.0605,1.2077],"zero":false,"nice":false}}}},
{"data":{"name":"dots"},"transform":[{"filter":"datum.kind == 'bottom'"}],"mark":{"type":"circle","color":"#33dd33","size":14,"opacity":1},
 "encoding":{"x":{"field":"d","type":"temporal","scale":{"type":"utc","domain":[{"year":2019,"month":1,"date":20,"utc":true},{"year":2021,"month":3,"date":29,"utc":true}]},"axis":null},
  "y":{"field":"p","type":"quantitative","scale":{"domain":[1.0605,1.2077],"zero":false,"nice":false}}}},
{"data":{"name":"fibtxt"},"transform":[{"filter":"datum.kind == 'grey'"}],"mark":{"type":"text","align":"right","baseline":"bottom","dx":-2,"dy":0.5,"fontSize":3.5,"color":"#777777"},
 "encoding":{"x":{"field":"d","type":"temporal","scale":{"type":"utc","domain":[{"year":2019,"month":1,"date":20,"utc":true},{"year":2021,"month":3,"date":29,"utc":true}]},"axis":null},
  "y":{"field":"p","type":"quantitative","scale":{"domain":[1.0605,1.2077],"zero":false,"nice":false}},"text":{"field":"t"}}},
{"data":{"name":"fibtxt"},"transform":[{"filter":"datum.kind == 'purple'"}],"mark":{"type":"text","align":"right","baseline":"bottom","dx":0,"dy":0.5,"fontSize":3.5,"color":"#a864d2"},
 "encoding":{"x":{"field":"d","type":"temporal","scale":{"type":"utc","domain":[{"year":2019,"month":1,"date":20,"utc":true},{"year":2021,"month":3,"date":29,"utc":true}]},"axis":null},
  "y":{"field":"p","type":"quantitative","scale":{"domain":[1.0605,1.2077],"zero":false,"nice":false}},"text":{"field":"t"}}},
{"data":{"name":"wlab"},"transform":[{"filter":"datum.kind == 'g'"}],"mark":{"type":"text","align":"center","baseline":"middle","fontSize":12,"color":"#3d8b3d"},
 "encoding":{"x":{"field":"d","type":"temporal","scale":{"type":"utc","domain":[{"year":2019,"month":1,"date":20,"utc":true},{"year":2021,"month":3,"date":29,"utc":true}]},"axis":null},
  "y":{"field":"p","type":"quantitative","scale":{"domain":[1.0605,1.2077],"zero":false,"nice":false}},"text":{"field":"t"}}},
{"data":{"name":"wlab"},"transform":[{"filter":"datum.kind == 'm'"}],"mark":{"type":"text","align":"center","baseline":"middle","fontSize":12,"color":"#ff3cf0"},
 "encoding":{"x":{"field":"d","type":"temporal","scale":{"type":"utc","domain":[{"year":2019,"month":1,"date":20,"utc":true},{"year":2021,"month":3,"date":29,"utc":true}]},"axis":null},
  "y":{"field":"p","type":"quantitative","scale":{"domain":[1.0605,1.2077],"zero":false,"nice":false}},"text":{"field":"t"}}},
{"mark":{"type":"text","align":"left","baseline":"middle","fontSize":4,"color":"#333333","text":"▼ EURUSD,Daily  1.17875 1.17975 1.17800 1.17875"},
 "encoding":{"x":{"datum":{"year":2019,"month":1,"date":23,"utc":true},"type":"temporal","scale":{"type":"utc","domain":[{"year":2019,"month":1,"date":20,"utc":true},{"year":2021,"month":3,"date":29,"utc":true}]},"axis":null},
  "y":{"datum":1.2064,"type":"quantitative","scale":{"domain":[1.0605,1.2077],"zero":false,"nice":false}}}},
{"data":{"name":"boxes"},"transform":[{"filter":"datum.kind == 'red'"}],"mark":{"type":"bar","height":5,"color":"#e53935"},
 "encoding":{"x":{"datum":{"year":2021,"month":3,"date":30,"utc":true},"type":"temporal","scale":{"type":"utc","domain":[{"year":2019,"month":1,"date":20,"utc":true},{"year":2021,"month":3,"date":29,"utc":true}]},"axis":null},
  "x2":{"datum":{"year":2021,"month":4,"date":15,"utc":true}},
  "y":{"field":"p","type":"quantitative","scale":{"domain":[1.0605,1.2077],"zero":false,"nice":false}}}},
{"data":{"name":"boxes"},"transform":[{"filter":"datum.kind == 'black'"}],"mark":{"type":"bar","height":5,"color":"#111111"},
 "encoding":{"x":{"datum":{"year":2021,"month":3,"date":30,"utc":true},"type":"temporal","scale":{"type":"utc","domain":[{"year":2019,"month":1,"date":20,"utc":true},{"year":2021,"month":3,"date":29,"utc":true}]},"axis":null},
  "x2":{"datum":{"year":2021,"month":4,"date":15,"utc":true}},
  "y":{"field":"p","type":"quantitative","scale":{"domain":[1.0605,1.2077],"zero":false,"nice":false}}}},
{"data":{"name":"boxes"},"transform":[{"filter":"datum.kind == 'green'"}],"mark":{"type":"bar","height":5,"color":"#2e9e3e"},
 "encoding":{"x":{"datum":{"year":2021,"month":3,"date":30,"utc":true},"type":"temporal","scale":{"type":"utc","domain":[{"year":2019,"month":1,"date":20,"utc":true},{"year":2021,"month":3,"date":29,"utc":true}]},"axis":null},
  "x2":{"datum":{"year":2021,"month":4,"date":15,"utc":true}},
  "y":{"field":"p","type":"quantitative","scale":{"domain":[1.0605,1.2077],"zero":false,"nice":false}}}},
{"data":{"name":"boxes"},"mark":{"type":"text","align":"left","baseline":"middle","dx":1,"fontSize":3.8,"color":"white"},
 "encoding":{"x":{"datum":{"year":2021,"month":3,"date":30,"utc":true},"type":"temporal","scale":{"type":"utc","domain":[{"year":2019,"month":1,"date":20,"utc":true},{"year":2021,"month":3,"date":29,"utc":true}]},"axis":null},
  "y":{"field":"p","type":"quantitative","scale":{"domain":[1.0605,1.2077],"zero":false,"nice":false}},
  "text":{"field":"p","type":"quantitative","format":".5f"}}}
]},
{"width":758,"height":64,
"layer":[
{"data":{"name":"grid"},"mark":{"type":"rule","color":"#cfcfcf","strokeDash":[1,2],"strokeWidth":1},
 "encoding":{"x":{"field":"d","type":"temporal","scale":{"type":"utc","domain":[{"year":2019,"month":1,"date":20,"utc":true},{"year":2021,"month":3,"date":29,"utc":true}]},
   "axis":{"values":[{"year":2019,"month":1,"date":21,"utc":true},{"year":2019,"month":2,"date":12,"utc":true},{"year":2019,"month":3,"date":6,"utc":true},{"year":2019,"month":3,"date":28,"utc":true},{"year":2019,"month":4,"date":19,"utc":true},{"year":2019,"month":5,"date":13,"utc":true},{"year":2019,"month":6,"date":4,"utc":true},{"year":2019,"month":6,"date":26,"utc":true},{"year":2019,"month":7,"date":18,"utc":true},{"year":2019,"month":8,"date":9,"utc":true},{"year":2019,"month":9,"date":2,"utc":true},{"year":2019,"month":9,"date":24,"utc":true},{"year":2019,"month":10,"date":16,"utc":true},{"year":2019,"month":11,"date":7,"utc":true},{"year":2019,"month":11,"date":29,"utc":true},{"year":2019,"month":12,"date":23,"utc":true},{"year":2020,"month":1,"date":14,"utc":true},{"year":2020,"month":2,"date":7,"utc":true},{"year":2020,"month":3,"date":2,"utc":true},{"year":2020,"month":3,"date":24,"utc":true},{"year":2020,"month":4,"date":16,"utc":true},{"year":2020,"month":5,"date":7,"utc":true},{"year":2020,"month":5,"date":29,"utc":true},{"year":2020,"month":6,"date":22,"utc":true},{"year":2020,"month":7,"date":14,"utc":true},{"year":2020,"month":8,"date":5,"utc":true},{"year":2020,"month":8,"date":27,"utc":true},{"year":2020,"month":9,"date":18,"utc":true},{"year":2020,"month":10,"date":12,"utc":true}],
    "tickCount":200,"format":"%-d %b %Y","labelFontSize":3.4,"labelColor":"#333","labelAngle":0,"labelAlign":"left","labelPadding":1,"tickSize":2,"tickColor":"#999","grid":false,"domain":false,"title":null,"labelOverlap":false,"labelFlush":false}}}},
{"data":{"name":"candles"},"mark":{"type":"bar","width":2.4,"color":"#333333"},
 "encoding":{"x":{"field":"d","type":"temporal","scale":{"type":"utc","domain":[{"year":2019,"month":1,"date":20,"utc":true},{"year":2021,"month":3,"date":29,"utc":true}]}},
  "y":{"field":"m","type":"quantitative","scale":{"domain":[-0.0082,0.0147],"zero":false,"nice":false},
   "axis":{"orient":"right","values":[0.0136,0,-0.0075],"tickCount":50,"labelExpr":"datum.value == 0 ? '0.00' : format(datum.value, '.6f')","labelFontSize":3.8,"labelColor":"#333","tickSize":2,"tickColor":"#999","labelPadding":1,"domain":false,"grid":false,"title":null,"labelOverlap":false}},
  "y2":{"datum":0}}},
{"data":{"name":"candles"},"mark":{"type":"line","color":"#f2a36b","strokeWidth":1.3},
 "encoding":{"x":{"field":"d","type":"temporal","scale":{"type":"utc","domain":[{"year":2019,"month":1,"date":20,"utc":true},{"year":2021,"month":3,"date":29,"utc":true}]}},
  "y":{"field":"s","type":"quantitative","scale":{"domain":[-0.0082,0.0147],"zero":false,"nice":false}}}},
{"mark":{"type":"text","align":"left","baseline":"middle","fontSize":4,"color":"#333333","text":"MACD(12,26,9) -0.000359 -0.000820"},
 "encoding":{"x":{"datum":{"year":2019,"month":1,"date":23,"utc":true},"type":"temporal","scale":{"type":"utc","domain":[{"year":2019,"month":1,"date":20,"utc":true},{"year":2021,"month":3,"date":29,"utc":true}]}},
  "y":{"datum":0.0136,"type":"quantitative","scale":{"domain":[-0.0082,0.0147],"zero":false,"nice":false}}}}
]}
]
}
